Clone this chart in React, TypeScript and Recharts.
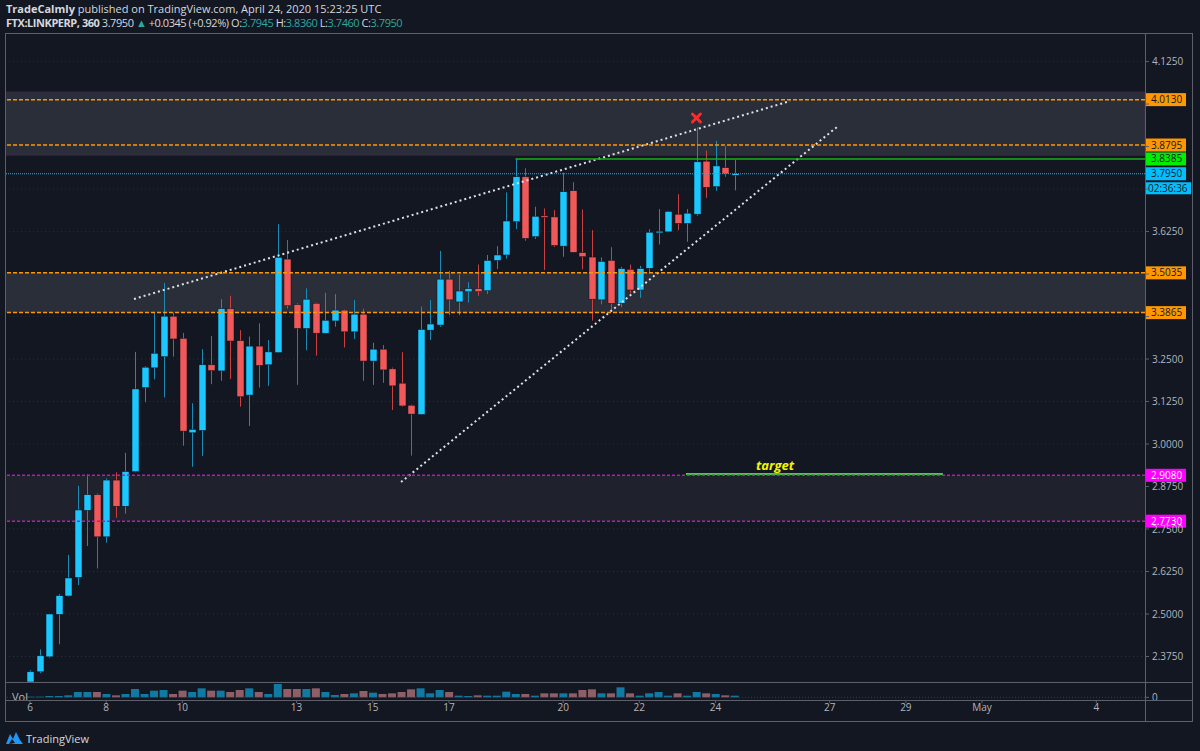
import React from 'react';
import {
  ComposedChart,
  Bar,
  XAxis,
  YAxis,
  CartesianGrid,
  ReferenceLine,
  ReferenceArea,
  ReferenceDot,
  Cell,
} from 'recharts';

// 6h candles, Apr 6 00:00 -> Apr 24 12:00 (FTX:LINKPERP)
const opens = [
  2.300, 2.330, 2.374, 2.499, 2.553, 2.608, 2.805, 2.851, 2.727, 2.894,
  2.817, 2.919, 3.166, 3.224, 3.257, 3.376, 3.311, 3.033, 3.040, 3.233,
  3.215, 3.398, 3.304, 3.144, 3.288, 3.233, 3.269, 3.544, 3.410, 3.340,
  3.414, 3.326, 3.362, 3.394, 3.330, 3.382, 3.244, 3.279, 3.221, 3.179,
  3.114, 3.087, 3.335, 3.350, 3.485, 3.418, 3.448, 3.457, 3.451, 3.540,
  3.556, 3.654, 3.786, 3.610, 3.671, 3.668, 3.582, 3.745, 3.563, 3.550,
  3.424, 3.540, 3.414, 3.514, 3.453, 3.517, 3.621, 3.624, 3.676, 3.649,
  3.676, 3.832, 3.757, 3.813, 3.7945,
];
const highs = [
  2.335, 2.396, 2.501, 2.559, 2.674, 2.877, 2.911, 2.855, 2.899, 2.917,
  2.974, 3.271, 3.229, 3.388, 3.474, 3.387, 3.327, 3.120, 3.279, 3.318,
  3.426, 3.436, 3.335, 3.316, 3.355, 3.306, 3.647, 3.600, 3.414, 3.458,
  3.416, 3.445, 3.441, 3.396, 3.424, 3.398, 3.298, 3.291, 3.225, 3.270,
  3.116, 3.404, 3.424, 3.568, 3.509, 3.499, 3.476, 3.528, 3.556, 3.582,
  3.740, 3.8385, 3.811, 3.698, 3.693, 3.688, 3.798, 3.770, 3.690, 3.629,
  3.549, 3.579, 3.521, 3.528, 3.524, 3.632, 3.691, 3.686, 3.735, 3.691,
  3.931, 3.863, 3.892, 3.876, 3.836,
];
const lows = [
  2.300, 2.326, 2.371, 2.411, 2.551, 2.585, 2.700, 2.634, 2.710, 2.783,
  2.795, 2.917, 3.123, 3.190, 3.137, 3.257, 2.995, 2.933, 2.965, 3.176,
  3.186, 3.191, 3.110, 3.053, 3.166, 3.171, 3.268, 3.398, 3.174, 3.276,
  3.260, 3.325, 3.345, 3.284, 3.309, 3.186, 3.174, 3.180, 3.100, 3.110,
  2.966, 3.086, 3.306, 3.345, 3.379, 3.379, 3.416, 3.436, 3.441, 3.515,
  3.545, 3.632, 3.598, 3.603, 3.512, 3.580, 3.551, 3.563, 3.514, 3.363,
  3.411, 3.389, 3.402, 3.443, 3.430, 3.502, 3.587, 3.623, 3.629, 3.595,
  3.671, 3.724, 3.745, 3.786, 3.746,
];
const closes = [
  2.330, 2.377, 2.500, 2.554, 2.606, 2.806, 2.851, 2.727, 2.894, 2.817,
  2.919, 3.162, 3.226, 3.267, 3.376, 3.309, 3.038, 3.043, 3.233, 3.216,
  3.398, 3.303, 3.139, 3.288, 3.231, 3.271, 3.549, 3.407, 3.340, 3.426,
  3.326, 3.364, 3.394, 3.330, 3.382, 3.244, 3.279, 3.218, 3.171, 3.112,
  3.088, 3.337, 3.353, 3.485, 3.424, 3.450, 3.457, 3.448, 3.540, 3.556,
  3.656, 3.786, 3.605, 3.670, 3.668, 3.584, 3.742, 3.564, 3.551, 3.426,
  3.537, 3.414, 3.516, 3.453, 3.516, 3.623, 3.626, 3.684, 3.649, 3.679,
  3.830, 3.755, 3.818, 3.7945, 3.795,
];
const volumes = [
  2, 2, 4, 4, 6, 16, 16, 16, 10, 6,
  10, 25, 10, 20, 22, 10, 20, 16, 27, 20,
  20, 16, 22, 27, 16, 10, 40, 25, 25, 25,
  27, 16, 7, 10, 12, 19, 14, 10, 12, 16,
  24, 27, 12, 22, 16, 5, 4, 6, 5, 5,
  17, 10, 10, 5, 12, 12, 12, 12, 22, 24,
  12, 12, 30, 12, 5, 12, 16, 5, 12, 5,
  16, 12, 10, 6, 5,
];

// time axis: candle index of each day label
const dayTicks = [0, 8, 16, 28, 36, 44, 56, 64, 72, 84, 92, 100, 112];
const dayLabels = ['6', '8', '10', '13', '15', '17', '20', '22', '24', '27', '29', 'May', '4'];

const priceTicks = [2.375, 2.5, 2.625, 2.75, 2.875, 3.0, 3.125, 3.25, 3.375, 3.5, 3.625, 3.75, 3.875, 4.0, 4.125];
// tick labels hidden under the price tags
const coveredTicks = [3.375, 3.5, 3.75, 3.875, 4.0];

// drawings
const orangeLevels = [4.013, 3.8795, 3.5035, 3.3865];
const magentaLevels = [2.908, 2.773];
const resistance = 3.8385;
const resistanceStart = 51;
const lastPrice = 3.795;
const zones = [
  [3.85, 4.035],
  [3.3865, 3.5035],
  [2.773, 2.908],
];
const upperTrend = [
  { x: 10.92, y: 3.4265 },
  { x: 79.83, y: 4.0088 },
];
const lowerTrend = [
  { x: 38.97, y: 2.888 },
  { x: 84.87, y: 3.935 },
];
const targetLine = [
  { x: 68.9, y: 2.912 },
  { x: 95.9, y: 2.912 },
];
const failMark = { x: 70, y: 3.959 };

const candles = opens.map((open, i) => ({
  i,
  open,
  high: highs[i],
  low: lows[i],
  close: closes[i],
  range: [lows[i], highs[i]],
  vol: volumes[i],
}));

const BG = '#131722';
const UP = '#1cc7ff';
const DOWN = '#f0585a';
const UP_WICK = '#1b8ab5';
const DOWN_WICK = '#c9403f';
const VOL_UP = '#127aa2';
const VOL_DOWN = '#8f5f68';
const AXIS_TEXT = '#b2b5be';
const LINE = '#5d606b';
const FONT = "'Open Sans', sans-serif";
const X_DOMAIN: [number, number] = [-2.63, 117.12];

function Candle(props: any) {
  const { x, y, width, height, payload } = props;
  if (!payload || x == null) return null;
  const { open, close, high, low } = payload;
  const up = close >= open;
  const top = Math.min(y, y + height);
  const h = Math.abs(height);
  const span = high - low || 1;
  const py = (p: number) => top + ((high - p) / span) * h;
  const cx = Math.round(x + width / 2) + 0.5;
  const bTop = py(Math.max(open, close));
  const bBot = py(Math.min(open, close));
  return (
    <g>
      <line x1={cx} x2={cx} y1={top} y2={top + h} stroke={up ? UP_WICK : DOWN_WICK} strokeWidth={1} />
      <rect
        x={cx - 3.5}
        y={bTop}
        width={7}
        height={Math.max(1.5, bBot - bTop)}
        fill={up ? UP : DOWN}
        stroke="#0d1018"
        strokeWidth={0.5}
      />
    </g>
  );
}

function PriceTick(props: any) {
  const { x, y, payload } = props;
  if (!payload || coveredTicks.includes(payload.value)) return null;
  return (
    <text x={x} y={y} dy={3.5} textAnchor="start" fill={AXIS_TEXT} fontSize={10} fontFamily={FONT}>
      {Number(payload.value).toFixed(4)}
    </text>
  );
}

function priceTag(text: string, bg: string, fg: string, sub?: string) {
  return (props: any) => {
    const vb = props.viewBox || {};
    const left = vb.x + vb.width;
    const cy = vb.y + (vb.height || 0) / 2;
    return (
      <g>
        <rect x={left} y={cy - 6.5} width={41} height={13} fill={bg} />
        <text x={left + 6} y={cy + 3.5} fontSize={10} fill={fg} fontFamily={FONT}>
          {text}
        </text>
        {sub && (
          <g>
            <rect x={left} y={cy + 8.5} width={46} height={12} fill={bg} />
            <text x={left + 3} y={cy + 18} fontSize={10} fill={fg} fontFamily={FONT}>
              {sub}
            </text>
          </g>
        )}
      </g>
    );
  };
}

function targetLabel(props: any) {
  const vb = props.viewBox || {};
  return (
    <text
      x={vb.x + 89}
      y={vb.y - 4}
      textAnchor="middle"
      fill="#f5f500"
      fontSize={13}
      fontWeight="bold"
      fontStyle="italic"
      fontFamily={FONT}
    >
      target
    </text>
  );
}

function XMark(props: any) {
  const { cx, cy } = props;
  if (cx == null) return null;
  return (
    <g stroke="#ff2b2b" strokeWidth={3} strokeLinecap="round">
      <line x1={cx - 4} y1={cy - 4} x2={cx + 4} y2={cy + 4} />
      <line x1={cx - 4} y1={cy + 4} x2={cx + 4} y2={cy - 4} />
    </g>
  );
}

function TvLogo() {
  return (
    <svg width={18} height={14} style={{ position: 'absolute', left: 6, top: 731 }}>
      <path d="M0 13 L4 3 L7 8 L10 1 L14 9 L17 13 Z" fill="#2196f3" />
      <path d="M3 13 L6 8 L9 12 Z" fill={BG} />
    </svg>
  );
}

export default function App() {
  const teal = { color: '#2ea89c' };
  return (
    <div
      style={{
        position: 'absolute',
        left: 0,
        top: 0,
        width: 1200,
        height: 751,
        background: BG,
        overflow: 'hidden',
        fontFamily: FONT,
      }}
    >
      <div style={{ position: 'absolute', left: 6, top: 2, fontSize: 11, lineHeight: '14px', color: '#d6d8de' }}>
        <div>
          <b>TradeCalmly</b> published on TradingView.com, April 24, 2020 15:23:25 UTC
        </div>
        <div style={{ letterSpacing: -0.45 }}>
          <b>FTX:LINKPERP, 360</b> 3.7950 <span style={teal}>▲</span> +0.0345 (+0.92%) O:<span style={teal}>3.7945</span> H:
          <span style={teal}>3.8360</span> L:<span style={teal}>3.7460</span> C:<span style={teal}>3.7950</span>
        </div>
      </div>

      <div style={{ position: 'absolute', left: 5, top: 33 }}>
        <ComposedChart width={1188} height={649} data={candles} margin={{ top: 0, right: 0, left: 0, bottom: 0 }}>
          <CartesianGrid vertical={false} stroke="#2a2e39" strokeDasharray="1 3" />
          <XAxis type="number" dataKey="i" domain={X_DOMAIN} hide allowDataOverflow />
          <YAxis
            orientation="right"
            width={48}
            domain={[2.3, 4.209]}
            allowDataOverflow
            ticks={priceTicks}
            interval={0}
            tick={(p: any) => <PriceTick {...p} />}
            tickLine={{ stroke: LINE }}
            tickSize={4}
            tickMargin={3}
            axisLine={false}
          />
          {zones.map((z, k) => (
            <ReferenceArea
              key={'z' + k}
              y1={z[0]}
              y2={z[1]}
              fill={k === 2 ? '#1f222c' : '#2a2e39'}
              fillOpacity={1}
              stroke={k === 0 ? '#3e2c4a' : 'none'}
              ifOverflow="visible"
            />
          ))}
          <ReferenceLine segment={upperTrend} stroke="#dfe1e8" strokeWidth={2} strokeDasharray="2 3" ifOverflow="visible" />
          <ReferenceLine segment={lowerTrend} stroke="#dfe1e8" strokeWidth={2} strokeDasharray="2 3" ifOverflow="visible" />
          <ReferenceLine
            segment={targetLine}
            stroke="#1ee81e"
            strokeWidth={2}
            ifOverflow="visible"
            label={targetLabel}
          />
          <ReferenceLine
            y={lastPrice}
            stroke="#17b7ee"
            strokeDasharray="1 1"
            label={priceTag('3.7950', '#00bfff', '#131722', '02:36:36')}
          />
          <ReferenceLine
            segment={[
              { x: resistanceStart, y: resistance },
              { x: X_DOMAIN[1], y: resistance },
            ]}
            stroke="#18b018"
            strokeWidth={1.5}
            label={priceTag('3.8385', '#00ee00', '#131722')}
          />
          {orangeLevels.map((p) => (
            <ReferenceLine
              key={'o' + p}
              y={p}
              stroke="#ff9800"
              strokeWidth={1.5}
              strokeDasharray="4 2"
              label={priceTag(p.toFixed(4), '#ff9800', '#131722')}
            />
          ))}
          {magentaLevels.map((p) => (
            <ReferenceLine
              key={'m' + p}
              y={p}
              stroke="#b41cb4"
              strokeWidth={1.5}
              strokeDasharray="3 2"
              label={priceTag(p.toFixed(4), '#ff00ff', '#ffffff')}
            />
          ))}
          <Bar dataKey="range" barSize={8} isAnimationActive={false} shape={(p: any) => <Candle {...p} />} />
          <ReferenceDot x={failMark.x} y={failMark.y} ifOverflow="visible" shape={(p: any) => <XMark {...p} />} />
        </ComposedChart>
      </div>

      <div style={{ position: 'absolute', left: 5, top: 682 }}>
        <ComposedChart width={1188} height={40} data={candles} margin={{ top: 0, right: 0, left: 0, bottom: 0 }}>
          <XAxis
            type="number"
            dataKey="i"
            domain={X_DOMAIN}
            allowDataOverflow
            ticks={dayTicks}
            interval={0}
            tickFormatter={(v: number) => dayLabels[dayTicks.indexOf(v)]}
            height={22}
            tick={{ fill: AXIS_TEXT, fontSize: 10, fontFamily: FONT }}
            tickSize={3}
            tickMargin={1}
            tickLine={{ stroke: LINE }}
            axisLine={false}
          />
          <YAxis
            orientation="right"
            width={48}
            domain={[-8, 46]}
            ticks={[0]}
            interval={0}
            tick={{ fill: AXIS_TEXT, fontSize: 10, fontFamily: FONT }}
            tickLine={{ stroke: LINE }}
            tickSize={4}
            tickMargin={3}
            axisLine={false}
          />
          <ReferenceLine y={0} stroke="#3a3e4a" strokeDasharray="1 2" />
          <Bar dataKey="vol" barSize={8} isAnimationActive={false}>
            {candles.map((c) => (
              <Cell key={c.i} fill={c.close >= c.open ? VOL_UP : VOL_DOWN} />
            ))}
          </Bar>
        </ComposedChart>
      </div>

      <div style={{ position: 'absolute', left: 12, top: 689, fontSize: 11, color: AXIS_TEXT }}>Vol</div>

      <svg width={1200} height={751} style={{ position: 'absolute', left: 0, top: 0, pointerEvents: 'none' }}>
        <rect x={5.5} y={33.5} width={1187} height={688} fill="none" stroke={LINE} />
        <line x1={5} x2={1193} y1={682.5} y2={682.5} stroke={LINE} />
        <line x1={5} x2={1193} y1={700.5} y2={700.5} stroke={LINE} />
        <line x1={1145.5} x2={1145.5} y1={33} y2={722} stroke={LINE} />
      </svg>

      <TvLogo />
      <div style={{ position: 'absolute', left: 26, top: 731, fontSize: 11, color: '#d6d8de' }}>TradingView</div>
    </div>
  );
}
